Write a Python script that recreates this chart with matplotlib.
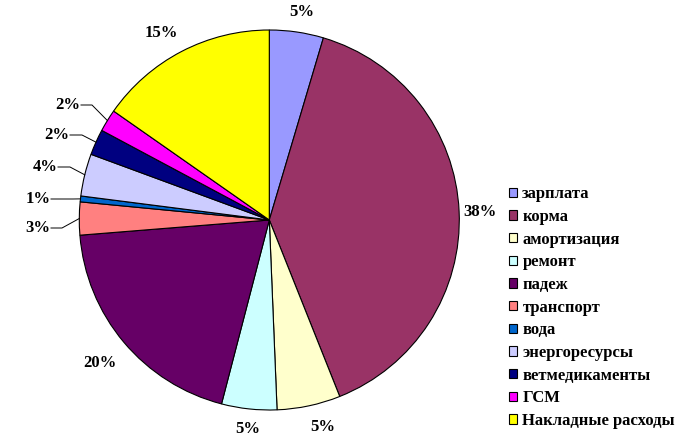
import numpy as np
import matplotlib.pyplot as plt

plt.rcParams['font.family'] = ['Liberation Serif', 'DejaVu Serif']
plt.rcParams['font.weight'] = 'bold'

categories = ['зарплата', 'корма', 'амортизация', 'ремонт', 'падеж',
              'транспорт', 'вода', 'энергоресурсы', 'ветмедикаменты',
              'ГСМ', 'Накладные расходы']
# shares
shares = [4.6, 39.4, 5.4, 4.7, 19.7, 2.8, 0.5, 3.6, 2.2, 1.9, 15.3]
pct_labels = ['5%', '38%', '5%', '5%', '20%', '3%', '1%', '4%', '2%', '2%', '15%']
colors = ['#9999FF', '#993366', '#FFFFCC', '#CCFFFF', '#660066', '#FF8080',
          '#0066CC', '#CCCCFF', '#000080', '#FF00FF', '#FFFF00']

W, H = 684, 437
cx, cy, R = 269.3, H - 220, 190

# label positions in pixels (x, y from top); elbow x for leader lines
label_pos = [(302, 12), (480, 212), (323, 427), (248, 429), (100, 363),
             (38, 228), (38, 199), (45, 167), (57, 135), (68, 105), (161, 33)]
leader_elbow = {5: 62, 6: 73, 7: 70, 8: 82, 9: 92}

fig = plt.figure(figsize=(W / 100, H / 100), dpi=100)
ax = fig.add_axes([0, 0, 1, 1])

wedges, _ = ax.pie(shares, colors=colors, startangle=90, counterclock=False,
                   radius=R, center=(cx, cy),
                   wedgeprops=dict(edgecolor='black', linewidth=0.8))

ax.set_xlim(0, W)
ax.set_ylim(0, H)
ax.set_aspect('equal')
ax.axis('off')

for i, (w, lab) in enumerate(zip(wedges, pct_labels)):
    px, py = label_pos[i]
    ax.text(px, H - py, lab, ha='center', va='center', fontsize=12,
            fontweight='bold')
    if i in leader_elbow:
        mid = np.deg2rad((w.theta1 + w.theta2) / 2)
        ex, ey = cx + R * np.cos(mid), cy + R * np.sin(mid)
        tx = px + 13
        ax.plot([tx, leader_elbow[i], ex], [H - py, H - py, ey],
                color='black', lw=0.7)

leg = ax.legend(wedges, categories, loc='upper left',
                bbox_to_anchor=(501 / W, 1 - 178 / H), frameon=False,
                prop=dict(family='Liberation Serif', weight='bold', size=12),
                handlelength=0.48, handleheight=0.48, handletextpad=0.3,
                labelspacing=0.4, borderpad=0)
for h in leg.legend_handles:
    h.set_edgecolor('black')
    h.set_linewidth(0.8)

fig.savefig('out.png', dpi=100)
